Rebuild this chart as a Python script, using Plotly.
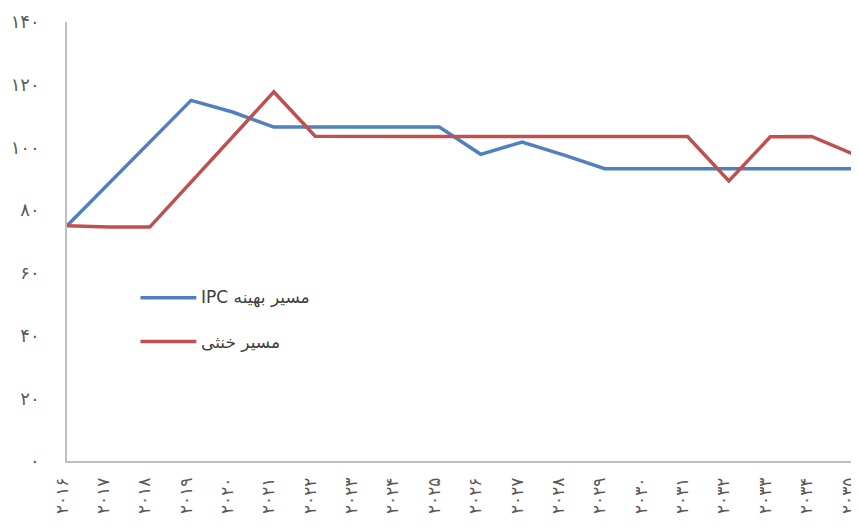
import plotly.graph_objects as go

years = ["۲۰۱۶", "۲۰۱۷", "۲۰۱۸", "۲۰۱۹", "۲۰۲۰", "۲۰۲۱", "۲۰۲۲", "۲۰۲۳", "۲۰۲۴", "۲۰۲۵",
         "۲۰۲۶", "۲۰۲۷", "۲۰۲۸", "۲۰۲۹", "۲۰۳۰", "۲۰۳۱", "۲۰۳۲", "۲۰۳۳", "۲۰۳۴", "۲۰۳۵"]
ipc_optimal = [75, 88.3, 101.7, 115, 111.3, 106.5, 106.5, 106.5, 106.5, 106.5,
               97.8, 101.7, 97.6, 93.2, 93.2, 93.2, 93.2, 93.2, 93.2, 93.2]
neutral = [75, 74.6, 74.6, 89, 103.3, 117.7, 103.6, 103.5, 103.5, 103.5,
           103.5, 103.5, 103.5, 103.5, 103.5, 103.5, 89.3, 103.4, 103.5, 97.9]
y_ticks = [0, 20, 40, 60, 80, 100, 120, 140]
y_tick_text = ["۰", "۲۰", "۴۰", "۶۰", "۸۰", "۱۰۰", "۱۲۰", "۱۴۰"]
names = ["IPC مسیر بهینه", "مسیر خنثی"]
colors = ["#4F81BD", "#C0504D"]

x = list(range(len(years)))
fig = go.Figure()
for name, vals, col in zip(names, [ipc_optimal, neutral], colors):
    fig.add_trace(go.Scatter(x=x, y=vals, mode="lines", name=name,
                             line=dict(color=col, width=3.5), cliponaxis=False,
                             showlegend=False))

# manual legend (line swatch + label)
for i, (name, col) in enumerate(zip(names, colors)):
    yy = 0.372 - i * 0.1
    fig.add_shape(type="line", xref="paper", yref="paper",
                  x0=0.0935, x1=0.1645, y0=yy, y1=yy,
                  line=dict(color=col, width=3.5))
    fig.add_annotation(xref="paper", yref="paper", x=0.168, y=yy,
                       text=name, showarrow=False, xanchor="left", yanchor="middle",
                       font=dict(family="DejaVu Sans, Liberation Sans", size=17, color="#404040"))

# the page body has an 8px margin, so the figure is shrunk by 8px to fit the window
fig.update_layout(
    width=851, height=521,
    margin=dict(l=59, r=6, t=14, b=68, autoexpand=False),
    plot_bgcolor="white", paper_bgcolor="white",
    font=dict(family="DejaVu Sans", color="#595959"),
)
fig.update_xaxes(range=[0, len(years) - 1], tickmode="array", tickvals=x, ticktext=years,
                 tickangle=-90, showgrid=False, zeroline=False, showline=True,
                 linecolor="#BFBFBF", linewidth=1.5, ticks="", ticklabelstandoff=8,
                 ticklabelshift=-5, ticklabeloverflow="allow", automargin=False,
                 tickfont=dict(size=17, color="#595959"))
fig.update_yaxes(range=[0, 140], tickmode="array", tickvals=y_ticks, ticktext=y_tick_text,
                 showgrid=False, zeroline=False, showline=True,
                 linecolor="#BFBFBF", linewidth=1.5, ticks="", ticklabelstandoff=22,
                 automargin=False, tickfont=dict(size=18, color="#595959"))

fig.write_html("out.html")
